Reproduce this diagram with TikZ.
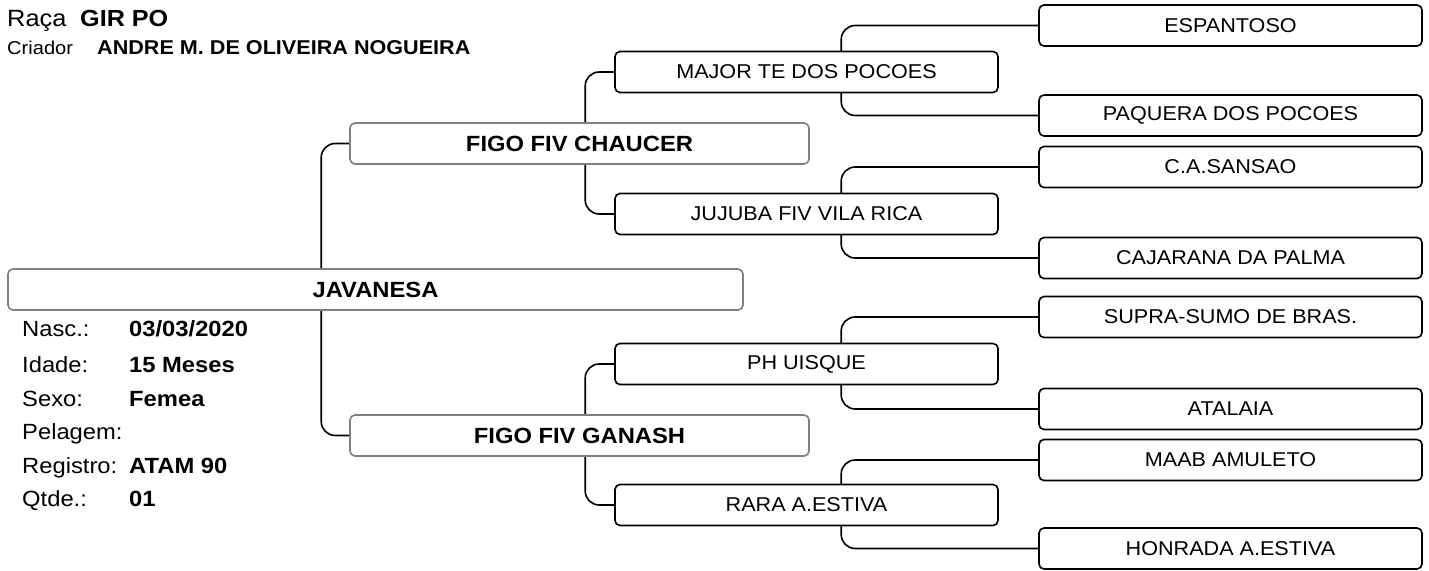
\documentclass[tikz,border=0pt]{standalone}
\usepackage{fontspec}
\setmainfont[FakeStretch=1.08]{Liberation Sans}
\begin{document}
\begin{tikzpicture}[x=1pt,y=-1pt,
  conn/.style={line width=1.6pt,black,rounded corners=14pt},
  box/.style={draw=black,line width=1.6pt,rounded corners=5pt,fill=white,inner sep=0pt,minimum height=41pt,font=\fontsize{20}{22}\selectfont},
  gbox/.style={box,draw=black!50,font=\fontsize{22}{24}\selectfont\bfseries},
  g3/.style={box,minimum width=383pt},
  g2/.style={box,minimum width=383pt},
  g1/.style={gbox,minimum width=459pt},
  g0/.style={gbox,minimum width=735pt},
  lab/.style={anchor=base west,inner sep=0pt,font=\fontsize{22}{24}\selectfont},
  val/.style={anchor=base west,inner sep=0pt,font=\fontsize{22}{24}\selectfont\bfseries}]
\useasboundingbox (0,0) rectangle (1429,570);
% header
\node[anchor=base west,inner sep=0pt,font=\fontsize{23.5}{26}\selectfont] (raca) at (7,26) {Raça};
\node[anchor=base west,inner sep=0pt,font=\fontsize{23.3}{26}\selectfont\bfseries] (raca v) at (80,26) {GIR PO};
\node[anchor=base west,inner sep=0pt,font=\fontsize{18.6}{22}\selectfont] (criador) at (7,54) {Criador};
\node[anchor=base west,inner sep=0pt,font=\fontsize{20}{22}\selectfont\bfseries] (criador v) at (97,54) {ANDRE M. DE OLIVEIRA NOGUEIRA};
\coordinate (p0) at (375.5,289.5);
% generation 3
\node[g3] (ggg1) at (1230.5,25.5) {ESPANTOSO};
\node[g3] (ggg2) at (1230.5,115.5) {PAQUERA DOS POCOES};
\node[g3] (ggg3) at (1230.5,167) {C.A.SANSAO};
\node[g3] (ggg4) at (1230.5,258) {CAJARANA DA PALMA};
\node[g3] (ggg5) at (1230.5,317) {SUPRA-SUMO DE BRAS.};
\node[g3] (ggg6) at (1230.5,409) {ATALAIA};
\node[g3] (ggg7) at (1230.5,460) {MAAB AMULETO};
\node[g3] (ggg8) at (1230.5,548.5) {HONRADA A.ESTIVA};
% connectors gen2 -> gen3 (drawn before gen2 boxes so boxes cover them)
\draw[conn] (ggg1.west) -- ++(-197,0) |- (ggg2.west);
\draw[conn] (ggg3.west) -- ++(-197,0) |- (ggg4.west);
\draw[conn] (ggg5.west) -- ++(-197,0) |- (ggg6.west);
\draw[conn] (ggg7.west) -- ++(-197,0) |- (ggg8.west);
% generation 2
\node[g2] (gg1) at (806.5,72) {MAJOR TE DOS POCOES};
\node[g2] (gg2) at (806.5,214) {JUJUBA FIV VILA RICA};
\node[g2] (gg3) at (806.5,364) {PH UISQUE};
\node[g2] (gg4) at (806.5,505) {RARA A.ESTIVA};
\draw[conn] (gg1.west) -- ++(-29,0) |- (gg2.west);
\draw[conn] (gg3.west) -- ++(-29,0) |- (gg4.west);
% generation 1
\node[g1] (g1) at (579.5,143.5) {FIGO FIV CHAUCER};
\node[g1] (g2) at (579.5,435.5) {FIGO FIV GANASH};
\draw[conn] (g1.west) -- ++(-28,0) |- (g2.west);
% generation 0
\node[g0] (g0) at (p0) {JAVANESA};
% info
\node[lab] (l1) at (22,336) {Nasc.:};
\node[val] (v1) at (129,336) {03/03/2020};
\node[lab] (l2) at (22,372) {Idade:};
\node[val] (v2) at (129,372) {15 Meses};
\node[lab] (l3) at (22,406) {Sexo:};
\node[val] (v3) at (129,406) {Femea};
\node[lab] (l4) at (22,439) {Pelagem:};
\node[lab] (l5) at (22,473) {Registro:};
\node[val] (v5) at (129,473) {ATAM 90};
\node[lab] (l6) at (22,506) {Qtde.:};
\node[val] (v6) at (129,506) {01};
\end{tikzpicture}
\end{document}
